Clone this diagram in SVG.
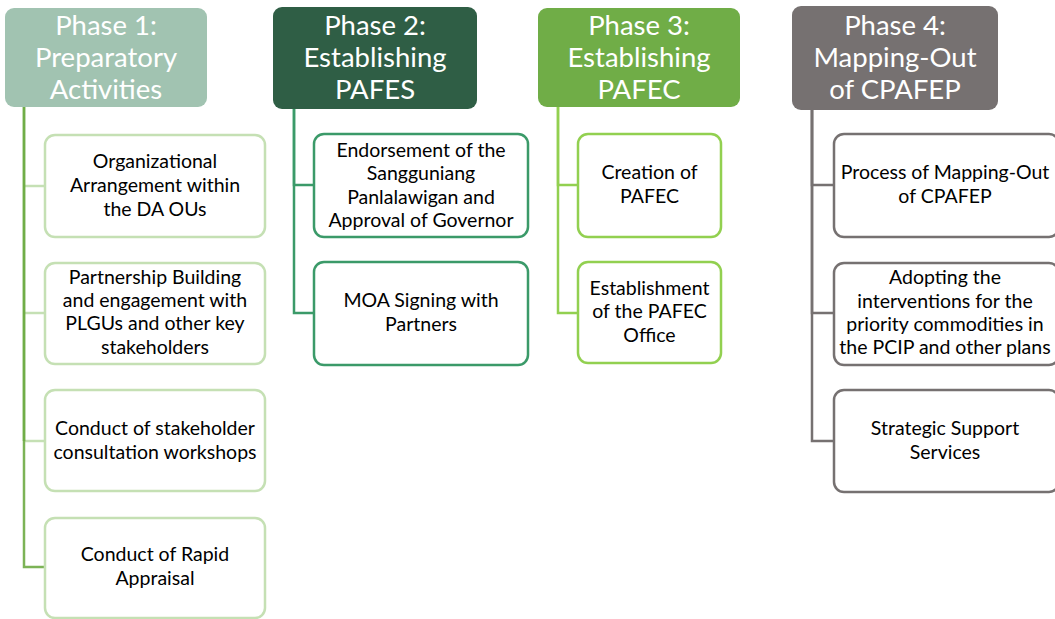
<svg xmlns="http://www.w3.org/2000/svg" width="1055" height="619" viewBox="0 0 1055 619">
<style>
.hd text{font-family:Lato,"Liberation Sans",sans-serif;font-size:27.5px;fill:#fff;text-anchor:middle}
.ch text{font-family:Lato,"Liberation Sans",sans-serif;font-size:19.5px;fill:#000;text-anchor:middle}
.ch rect{fill:#fff;stroke-width:2.5}
.p1 rect{stroke:#c5e0b4}
.p2 rect{stroke:#3b9a69}
.p3 rect{stroke:#92d050}
.p4 rect{stroke:#767171}
.cn path{fill:none;stroke-width:2.5}
</style>
<rect width="1055" height="619" fill="#fff"/>
<g id="connectors" class="cn">
<path d="M24 313H45" stroke="#c5e0b4"/>
<path d="M24 441H45" stroke="#c5e0b4"/>
<path d="M24 186H45" stroke="#c5e0b4"/>
<path d="M24 107V567H45" stroke="#7cb356"/>
<path d="M24 107V441" stroke="#70ad47"/>
<path d="M294 109V185H313" stroke="#3b9a69"/>
<path d="M294 109V313H313" stroke="#3b9a69"/>
<path d="M558 107V185H577" stroke="#92d050"/>
<path d="M558 107V313H577" stroke="#92d050"/>
<path d="M812 110V185H833" stroke="#767171"/>
<path d="M812 110V313H833" stroke="#767171"/>
<path d="M812 110V441H833" stroke="#767171"/>
</g>
<g id="phase1" class="hd"><rect x="5" y="8" width="202" height="99" rx="9" fill="#a1c3b1"/><text x="106" y="35">Phase 1:</text><text x="106" y="67">Preparatory</text><text x="106" y="99">Activities</text></g>
<g id="phase2" class="hd"><rect x="273" y="7" width="204" height="102" rx="9" fill="#2f5e45"/><text x="375" y="35">Phase 2:</text><text x="375" y="67">Establishing</text><text x="375" y="99">PAFES</text></g>
<g id="phase3" class="hd"><rect x="538" y="8" width="202" height="99" rx="9" fill="#70ad47"/><text x="639" y="35">Phase 3:</text><text x="639" y="67">Establishing</text><text x="639" y="99">PAFEC</text></g>
<g id="phase4" class="hd"><rect x="792" y="6" width="206" height="104" rx="9" fill="#767171"/><text x="895" y="35">Phase 4:</text><text x="895" y="67">Mapping-Out</text><text x="895" y="99">of CPAFEP</text></g>

<g id="p1a" class="ch p1"><rect x="45" y="135" width="220" height="102" rx="10"/><text x="155" y="168">Organizational</text><text x="155" y="192">Arrangement within</text><text x="155" y="216">the DA OUs</text></g>
<g id="p1b" class="ch p1"><rect x="45" y="263" width="220" height="101" rx="10"/><text x="155" y="284">Partnership Building</text><text x="155" y="307">and engagement with</text><text x="155" y="330">PLGUs and other key</text><text x="155" y="354">stakeholders</text></g>
<g id="p1c" class="ch p1"><rect x="45" y="390" width="220" height="101" rx="10"/><text x="155" y="435">Conduct of stakeholder</text><text x="155" y="459">consultation workshops</text></g>
<g id="p1d" class="ch p1"><rect x="45" y="518" width="220" height="100" rx="10"/><text x="155" y="561">Conduct of Rapid</text><text x="155" y="585">Appraisal</text></g>

<g id="p2a" class="ch p2"><rect x="314" y="134" width="214" height="103" rx="10"/><text x="421" y="157">Endorsement  of the</text><text x="421" y="180">Sangguniang</text><text x="421" y="204">Panlalawigan and</text><text x="421" y="227">Approval of Governor</text></g>
<g id="p2b" class="ch p2"><rect x="314" y="262" width="214" height="103" rx="10"/><text x="421" y="307">MOA Signing with</text><text x="421" y="331">Partners</text></g>

<g id="p3a" class="ch p3"><rect x="578" y="134" width="143" height="103" rx="10"/><text x="649.5" y="179">Creation of</text><text x="649.5" y="203">PAFEC</text></g>
<g id="p3b" class="ch p3"><rect x="578" y="262" width="143" height="101" rx="10"/><text x="649.5" y="295">Establishment</text><text x="649.5" y="318">of the PAFEC</text><text x="649.5" y="342">Office</text></g>

<g id="p4a" class="ch p4"><rect x="834" y="134" width="225" height="103" rx="10"/><text x="945" y="179">Process of Mapping-Out</text><text x="945" y="203">of CPAFEP</text></g>
<g id="p4b" class="ch p4"><rect x="834" y="263" width="225" height="102" rx="10"/><text x="945" y="284">Adopting the</text><text x="945" y="308">interventions for the</text><text x="945" y="331">priority commodities in</text><text x="945" y="354">the PCIP and other plans</text></g>
<g id="p4c" class="ch p4"><rect x="834" y="390" width="225" height="102" rx="10"/><text x="945" y="435">Strategic Support</text><text x="945" y="459">Services</text></g>
</svg>
